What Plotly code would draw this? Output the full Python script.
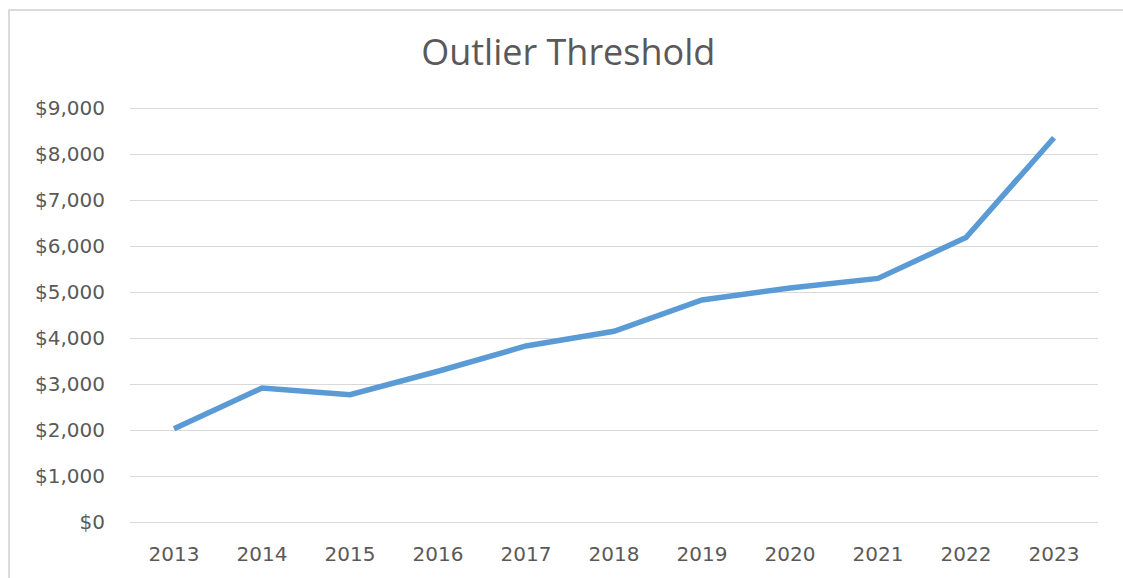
import plotly.graph_objects as go

years = ["2013", "2014", "2015", "2016", "2017", "2018", "2019", "2020", "2021", "2022", "2023"]
threshold = [2030, 2915, 2770, 3280, 3830, 4150, 4830, 5090, 5300, 6190, 8360]
y_ticks = [0, 1000, 2000, 3000, 4000, 5000, 6000, 7000, 8000, 9000]
y_labels = ["$0", "$1,000", "$2,000", "$3,000", "$4,000", "$5,000", "$6,000", "$7,000", "$8,000", "$9,000"]

fig = go.Figure()
fig.add_trace(go.Scatter(
    x=list(range(len(years))), y=threshold, mode="lines",
    line=dict(color="#5B9BD5", width=5.5),
    hoverinfo="skip", showlegend=False,
))

fig.update_layout(
    width=1123, height=578,
    margin=dict(l=130, r=25, t=106, b=56),
    paper_bgcolor="white", plot_bgcolor="white",
    title=dict(text="Outlier Threshold", x=0.506, xanchor="center", y=0.91, yanchor="middle",
               font=dict(family="Open Sans, sans-serif", size=36, color="#595959")),
    xaxis=dict(
        tickmode="array", tickvals=list(range(len(years))), ticktext=years,
        range=[-0.5, len(years) - 0.5], showgrid=False, zeroline=False,
        showline=False, ticks="", ticklabelstandoff=18,
        tickfont=dict(family="DejaVu Sans, sans-serif", size=20, color="#595959"),
    ),
    yaxis=dict(
        tickmode="array", tickvals=y_ticks, ticktext=y_labels,
        range=[0, 9050], showgrid=True, gridcolor="#d9d9d9", gridwidth=1.3,
        zeroline=True, zerolinecolor="#d9d9d9", zerolinewidth=1.3,
        showline=False, ticks="", ticklabelstandoff=24,
        tickfont=dict(family="DejaVu Sans, sans-serif", size=20, color="#595959"),
    ),
)

fig.add_shape(type="rect", xref="paper", yref="paper",
              x0=-121 / 968, x1=1.2, y0=-0.5, y1=(578 - 10 - 56) / 416,
              line=dict(color="#d0d0d0", width=1.5), fillcolor="rgba(0,0,0,0)", layer="below")

fig.write_html("out.html")
